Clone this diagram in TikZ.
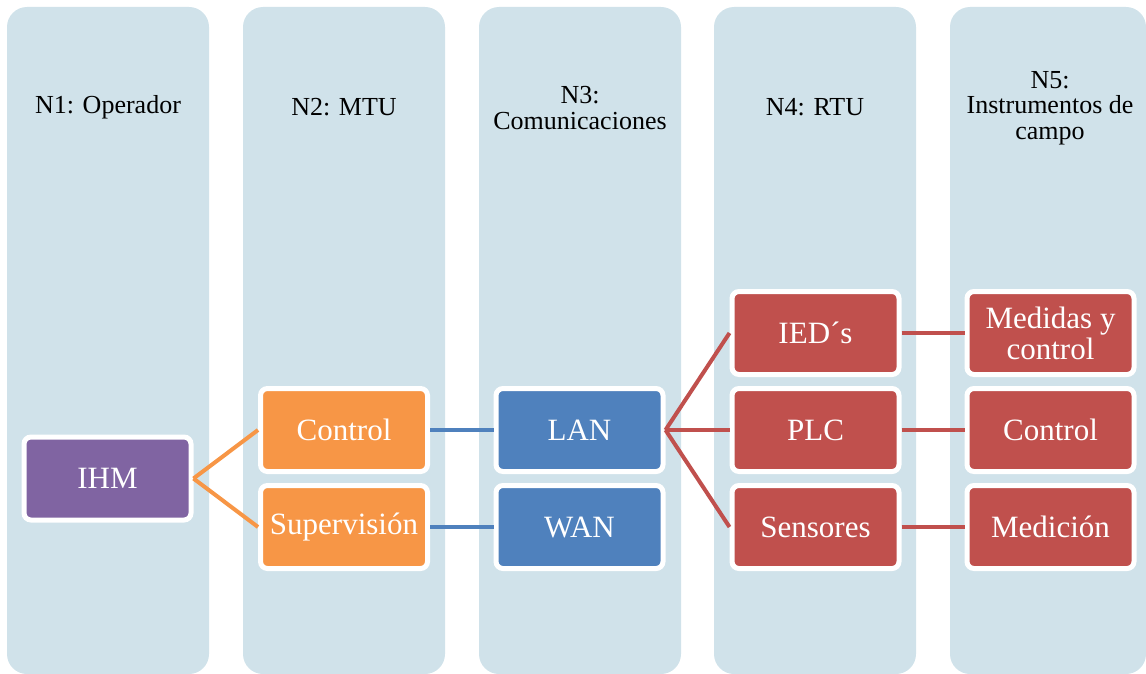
\documentclass[tikz,border=0pt]{standalone}
\usepackage{fontspec}
\setmainfont{Liberation Serif}
\definecolor{colbg}{RGB}{208,226,234}
\definecolor{cpurple}{RGB}{128,100,162}
\definecolor{corange}{RGB}{247,150,70}
\definecolor{cblue}{RGB}{79,129,189}
\definecolor{cred}{RGB}{192,80,77}
\tikzset{
  colbox/.style={fill=colbg, rounded corners=20pt},
  header/.style={align=center, text=black, font=\fontsize{26}{25.5}\selectfont, inner sep=0pt},
  itembox/.style={draw=white, line width=5pt, rounded corners=7pt, minimum width=167pt, minimum height=83pt, inner sep=0pt, align=center, text=white, font=\fontsize{31}{31}\selectfont},
  link/.style={line width=4pt},
}
\begin{document}
\begin{tikzpicture}[x=1pt,y=-1pt]
\useasboundingbox (0,0) rectangle (1146,674);
% columns
\fill[colbox] (7,7) rectangle (209,674);
\fill[colbox] (243,7) rectangle (445,674);
\fill[colbox] (479,7) rectangle (681,674);
\fill[colbox] (714,7) rectangle (916,674);
\fill[colbox] (950,7) rectangle (1146,674);
% headers
\node[header] (h1) at (108,107) {N1: Operador};
\node[header] (h2) at (344,107) {N2: MTU};
\node[header] (h3) at (580,108) {N3:\\Comunicaciones};
\node[header] (h4) at (815,107) {N4: RTU};
\node[header] (h5) at (1050,108) {N5:\\Instrumentos de\\campo};
% boxes
\node[itembox, fill=cpurple] (ihm) at (107.5,478.5) {IHM};
\node[itembox, fill=corange] (ctrl) at (344,430) {Control};
\node[itembox, fill=corange] (sup) at (344,527) {Supervisión};
\node[itembox, fill=cblue] (lan) at (579.5,430) {LAN};
\node[itembox, fill=cblue] (wan) at (579.5,527) {WAN};
\node[itembox, fill=cred] (ied) at (815.5,333) {IED´s};
\node[itembox, fill=cred] (plc) at (815.5,430) {PLC};
\node[itembox, fill=cred] (sen) at (815.5,527) {Sensores};
\node[itembox, fill=cred] (med) at (1050.5,333) {Medidas y\\control};
\node[itembox, fill=cred] (con) at (1050.5,430) {Control};
\node[itembox, fill=cred] (mdc) at (1050.5,527) {Medición};
% connectors
\draw[link, corange] (ihm.east) -- (ctrl.west);
\draw[link, corange] (ihm.east) -- (sup.west);
\draw[link, cblue] (ctrl.east) -- (lan.west);
\draw[link, cblue] (sup.east) -- (wan.west);
\draw[link, cred] (lan.east) -- (ied.west);
\draw[link, cred] (lan.east) -- (plc.west);
\draw[link, cred] (lan.east) -- (sen.west);
\draw[link, cred] (ied.east) -- (med.west);
\draw[link, cred] (plc.east) -- (con.west);
\draw[link, cred] (sen.east) -- (mdc.west);
\end{tikzpicture}
\end{document}
